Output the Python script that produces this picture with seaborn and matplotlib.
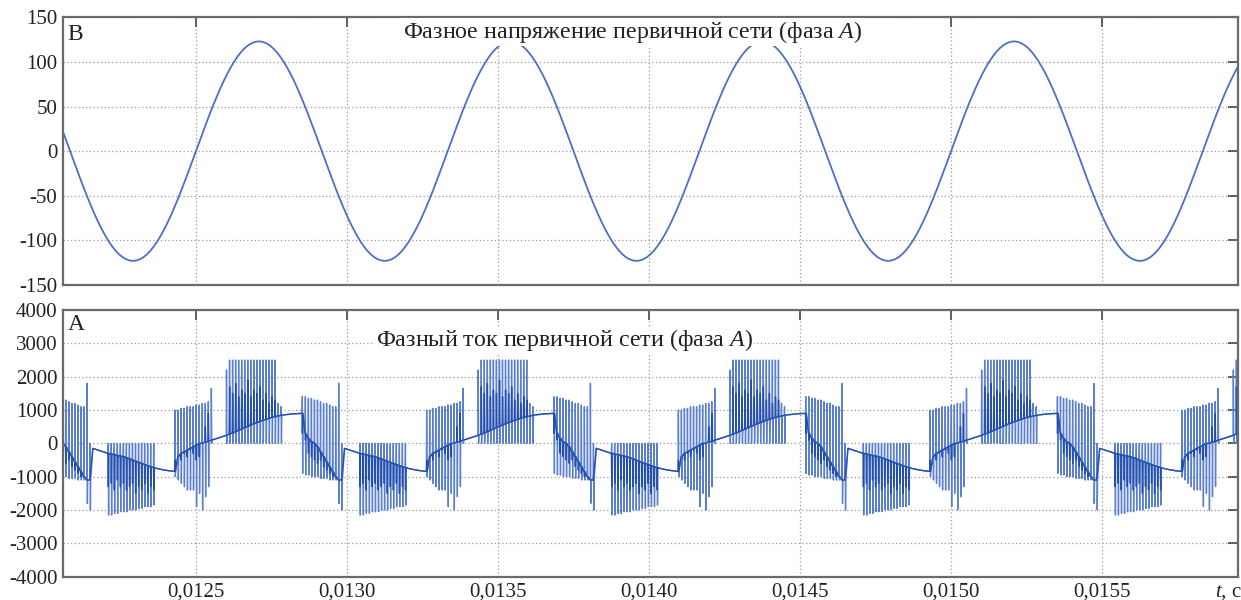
import numpy as np
import pandas as pd
import matplotlib
matplotlib.use('Agg')
import matplotlib.pyplot as plt
import seaborn as sns

N = np.nan
# ---------------- data ----------------
period = 1 / 1200                      # s, one cycle of the primary voltage
first_cycle_start = 0.0125 - period    # upward zero crossing before the window
n_cycles = 6

# phase voltage over one cycle, 72 samples (V)
volt_cycle = [0, 10.7, 21.4, 31.8, 42.1, 52.0, 61.5, 70.6, 79.1, 87.0, 94.2, 100.8,
              106.5, 111.5, 115.6, 118.8, 121.1, 122.5, 123.0, 122.5, 121.1, 118.8, 115.6,
              111.5, 106.5, 100.8, 94.2, 87.0, 79.1, 70.6, 61.5, 52.0, 42.1, 31.8, 21.4, 10.7,
              0, -10.7, -21.4, -31.8, -42.1, -52.0, -61.5, -70.6, -79.1, -87.0, -94.2, -100.8,
              -106.5, -111.5, -115.6, -118.8, -121.1, -122.5, -123.0, -122.5, -121.1, -118.8,
              -115.6, -111.5, -106.5, -100.8, -94.2, -87.0, -79.1, -70.6, -61.5, -52.0, -42.1,
              -31.8, -21.4, -10.7]

# phase current over one cycle, one value per switching slot (83 slots per cycle, A)
cur_base = [-50, 0, 0, 50, 50, 100, 120,
            150, 180, 210, 240, 280, 310, 350, 390, 430, 470, 510, 550, 590, 620, 660,
            690, 720, 750, 780, 800, 820, 840, 855, 865, 875, 885, 890, 895, 900,
            300, 150, 50, 0, -100, -250, -400, -550, -700, -850, -1000, -1100, -1100,
            -150, -180, -210, -240, -270, -300, -320, -340, -360, -380, -400, -430, -465, -500,
            -535, -570, -600, -635, -670, -700, -725, -750, -770, -790, -805, -820, -830, -840,
            -400, -300, -250, -200, -150, -100]
cur_hi = [1150, 1150, 1200, 1200, 1250, 1650, N,
          N, N, N,
          2200, 2500, 2500, 2500, 2500, 2500, 2500, 2500, 2500, 2500, 2500, 2500, 2500, 2500,
          2500, 2500, 2500, 1200, 1100,
          N, N, N, N, N, N,
          1400, 1400, 1350, 1350, 1300, 1300, 1250, 1200, 1200, 1150, 1100, 1100, 1800, 0,
          N,
          N, N, N, N,
          0, 0, 0, 0, 0, 0, 0, 0, 0, 0, 0, 0, 0, 0, 0, 0,
          N, N, N, N, N, N,
          1000, 1000, 1050, 1050, 1100, 1100, 1100]
cur_lo = [-1900, -1500, -2000, -1600, -1300, 0, N,
          N, N, N,
          0, 0, 0, 0, 0, 0, 0, 0, 0, 0, 0, 0, 0, 0, 0, 0, 0, 0, 0,
          N, N, N, N, N, N,
          -900, -950, -950, -1000, -1000, -1000, -1050, -1050, -1050, -1100, -1100, -1100, -1800, -2000,
          N,
          N, N, N, N,
          -2150, -2150, -2100, -2100, -2050, -2050, -2050, -2000, -2000, -2000, -1950, -1950,
          -1900, -1900, -1900, -1850,
          N, N, N, N, N, N,
          -1000, -1100, -1200, -1300, -1400, -1400, -1400]
# inner (darker) excursions inside the switching bands
cur_mid = [-500, -400, 0, 500, 900, N, N,
           N, N, N,
           N, 1700, 1500, 1800, 1400, 1600, 1500, 1900, 1400, 1600, 1500, 1700, 1300, 1500,
           1200, 1400, 1300, N, N,
           N, N, N, N, N, N,
           300, 100, -300, -400, -500, -600, -500, -700, -800, -900, -1000, -1000, N, N,
           N,
           N, N, N, N,
           -1300, -1200, -1400, -1100, -1300, -1200, -1400, -1300, -1200, -1500, -1300, -1400,
           -1200, -1500, -1300, -1400,
           N, N, N, N, N, N,
           -500, -400, -500, -300, -400, -200, -300]

x_ticks = [0.0125, 0.0130, 0.0135, 0.0140, 0.0145, 0.0150, 0.0155]
x_tick_labels = ['0,0125', '0,0130', '0,0135', '0,0140', '0,0145', '0,0150', '0,0155']
v_ticks = [-150, -100, -50, 0, 50, 100, 150]
i_ticks = [-4000, -3000, -2000, -1000, 0, 1000, 2000, 3000, 4000]
x_range = (0.01206, 0.01595)

top_title = 'Фазное напряжение первичной сети (фаза $A$)'
bottom_title = 'Фазный ток первичной сети (фаза $A$)'
top_letter = 'B'
bottom_letter = 'A'
x_label = '$t$, с'

# ---------------- build tables ----------------
nv = len(volt_cycle)
v_rows = []
for n in range(n_cycles):
    for j in range(nv):
        v_rows.append((first_cycle_start + (n * nv + j) * period / nv, volt_cycle[j]))
v_df = pd.DataFrame(v_rows, columns=['t', 'v'])

ns = len(cur_base)
ts = period / ns
i_rows, m_rows = [], []
for n in range(n_cycles):
    t0 = first_cycle_start + n * period
    for k in range(ns):
        tk = t0 + k * ts
        b = cur_base[k]
        i_rows.append((tk, b))
        m_rows.append((tk, b))
        if not np.isnan(cur_hi[k]):
            i_rows.append((tk + 0.08 * ts, cur_hi[k]))
            i_rows.append((tk + 0.20 * ts, cur_lo[k]))
            i_rows.append((tk + 0.30 * ts, b))
        if not np.isnan(cur_mid[k]):
            m_rows.append((tk + 0.10 * ts, cur_mid[k]))
            m_rows.append((tk + 0.22 * ts, b))
i_df = pd.DataFrame(i_rows, columns=['t', 'i'])
m_df = pd.DataFrame(m_rows, columns=['t', 'i'])

# ---------------- drawing ----------------
sns.set_theme(style='white')
plt.rcParams['font.family'] = ['Liberation Serif', 'DejaVu Serif']
plt.rcParams['mathtext.fontset'] = 'custom'
plt.rcParams['mathtext.rm'] = 'Liberation Serif'
plt.rcParams['mathtext.it'] = 'Liberation Serif:italic'
plt.rcParams['axes.unicode_minus'] = False

fig = plt.figure(figsize=(12.41, 6.0), dpi=100)
ax1 = fig.add_axes([0.0508, 0.525, 0.9468, 0.4462])
ax2 = fig.add_axes([0.0508, 0.0388, 0.9468, 0.4445])

sns.lineplot(data=v_df, x='t', y='v', ax=ax1, sort=False, estimator=None,
             color='#4f6fc4', linewidth=1.3)
sns.lineplot(data=i_df, x='t', y='i', ax=ax2, sort=False, estimator=None,
             color='#5a7fd0', linewidth=1.0)
sns.lineplot(data=m_df, x='t', y='i', ax=ax2, sort=False, estimator=None,
             color='#2450ad', linewidth=1.0)

ax1.set_ylim(-150, 150)
ax2.set_ylim(-4000, 4000)
ax1.set_yticks(v_ticks)
ax2.set_yticks(i_ticks)
for ax in (ax1, ax2):
    ax.set_xlim(*x_range)
    ax.set_xticks(x_ticks)
    ax.set_xlabel('')
    ax.set_ylabel('')
    ax.grid(True, linestyle=(0, (1, 2)), color='#9a9a9a', linewidth=0.9)
    ax.tick_params(direction='in', length=7, width=1.3, top=True, right=True,
                   colors='#555555', labelcolor='#222222', labelsize=15, pad=4)
    for s in ax.spines.values():
        s.set_color('#6a6a6a')
        s.set_linewidth(1.6)
ax1.set_xticklabels([])
ax2.set_xticklabels(x_tick_labels)

bb = dict(facecolor='white', edgecolor='none', pad=1.0)
ax1.text(0.4847, 0.945, top_title, transform=ax1.transAxes, ha='center', va='center',
         fontsize=17.3, color='#222222', bbox=bb)
ax2.text(0.4268, 0.8875, bottom_title, transform=ax2.transAxes, ha='center', va='center',
         fontsize=17.3, color='#222222', bbox=bb)
ax1.text(0.004, 0.937, top_letter, transform=ax1.transAxes, ha='left', va='center',
         fontsize=17, color='#222222')
ax2.text(0.004, 0.944, bottom_letter, transform=ax2.transAxes, ha='left', va='center',
         fontsize=17, color='#222222')
fig.text(1228 / 1241, 1 - 592 / 600, x_label, ha='center', va='center', fontsize=15, color='#222222')

fig.savefig('out.png', dpi=100)
